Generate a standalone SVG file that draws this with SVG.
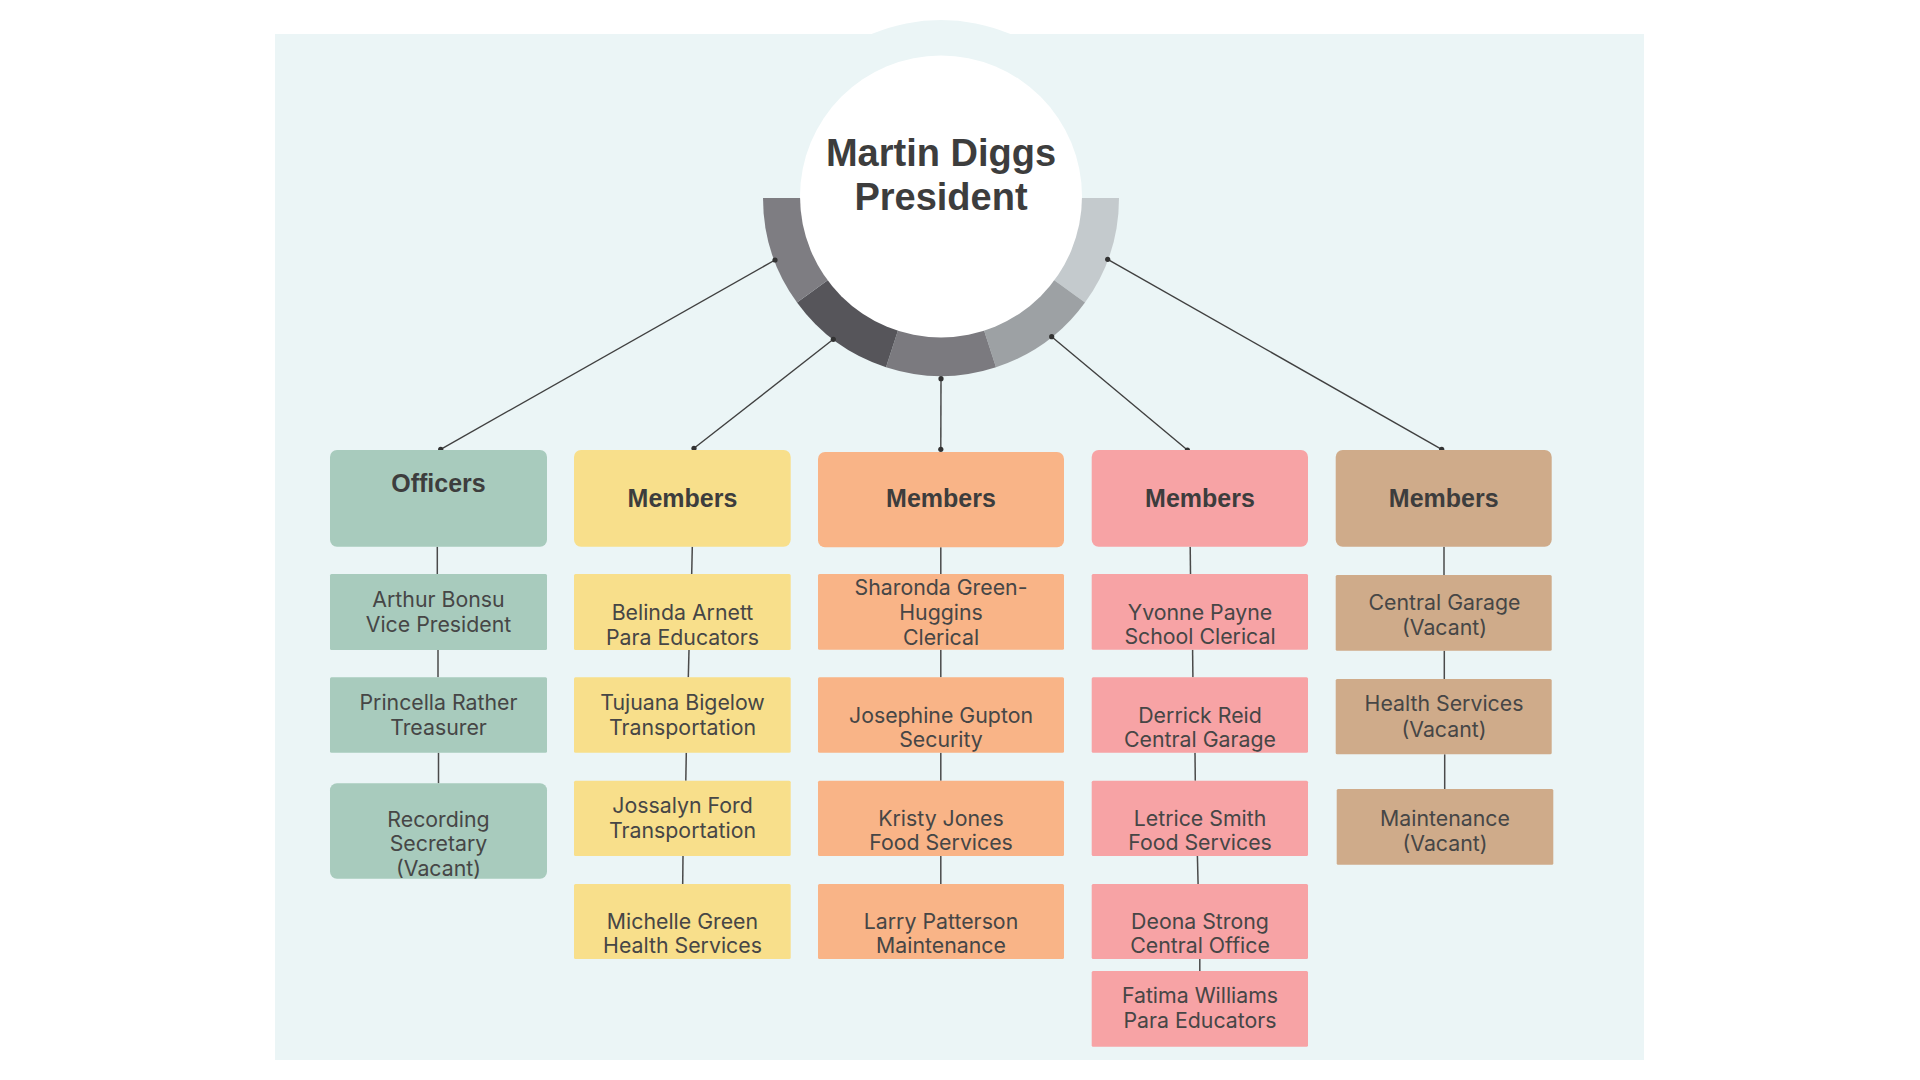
<svg xmlns="http://www.w3.org/2000/svg" width="1920" height="1080" viewBox="0 0 1920 1080">
<style>
.hd{font-family:"Liberation Sans",Arial,sans-serif;font-weight:bold;font-size:25px;fill:#3d3d3d;text-anchor:middle}
.tx{font-family:Inter,"Liberation Sans",sans-serif;font-size:21.3px;fill:#464646;text-anchor:middle}
.ti{font-family:"Liberation Sans",Arial,sans-serif;font-weight:bold;font-size:38px;fill:#3d3d3d;text-anchor:middle}
.g{fill:#a8cbbd}.y{fill:#f8df8b}.o{fill:#f9b487}.p{fill:#f7a3a5}.b{fill:#cfab8a}
.ln{stroke:#404040;stroke-width:1.4;fill:none}
.vl{stroke:#4a4a4a;stroke-width:1.5;fill:none}
.dot{fill:#333}
</style>
<defs>
<clipPath id="clipRec"><rect x="330" y="783.3" width="217" height="95.4" rx="7"/></clipPath>
</defs>
<rect width="1920" height="1080" fill="#ffffff"/>
<g id="background">
<rect x="275" y="34" width="1369" height="1026" fill="#ebf5f6"/>
<circle cx="941" cy="198" r="178" fill="#ebf5f6"/>
</g>
<g id="president">
<path d="M941,198 L1119,198 A178,178 0 0 1 1085,302.6 Z" fill="#c4cacd"/>
<path d="M941,198 L1085,302.6 A178,178 0 0 1 996,367.3 Z" fill="#9da1a4"/>
<path d="M941,198 L996,367.3 A178,178 0 0 1 886,367.3 Z" fill="#7b7a7f"/>
<path d="M941,198 L886,367.3 A178,178 0 0 1 797,302.6 Z" fill="#56555a"/>
<path d="M941,198 L797,302.6 A178,178 0 0 1 763,198 Z" fill="#7e7d82"/>
<circle cx="941" cy="196.5" r="141" fill="#ffffff"/>
<text class="ti" x="941" y="165.7">Martin Diggs</text>
<text class="ti" x="941" y="210">President</text>
</g>
<g id="connectors">
<line class="ln" x1="775" y1="260" x2="440.7" y2="449.3"/>
<line class="ln" x1="833.3" y1="339.3" x2="694" y2="448.3"/>
<line class="ln" x1="941" y1="378.7" x2="940.8" y2="449.3"/>
<line class="ln" x1="1051.7" y1="336.7" x2="1187.4" y2="450"/>
<line class="ln" x1="1107.7" y1="259.3" x2="1441.7" y2="449.3"/>
<circle class="dot" cx="775" cy="260" r="2.6"/>
<circle class="dot" cx="833.3" cy="339.3" r="2.6"/>
<circle class="dot" cx="941" cy="378.7" r="2.6"/>
<circle class="dot" cx="1051.7" cy="336.7" r="2.6"/>
<circle class="dot" cx="1107.7" cy="259.3" r="2.6"/>
<circle class="dot" cx="440.7" cy="449.3" r="2.6"/>
<circle class="dot" cx="694" cy="448.3" r="2.6"/>
<circle class="dot" cx="940.8" cy="449.3" r="2.6"/>
<circle class="dot" cx="1187.4" cy="450" r="2.6"/>
<circle class="dot" cx="1441.7" cy="449.3" r="2.6"/>
<line class="vl" x1="437.3" y1="546.7" x2="437.3" y2="574"/>
<line class="vl" x1="438" y1="650" x2="438" y2="677.3"/>
<line class="vl" x1="438.5" y1="752.7" x2="438.5" y2="783.3"/>
<line class="vl" x1="692.3" y1="546.7" x2="691.7" y2="574"/>
<line class="vl" x1="689" y1="650" x2="688.3" y2="677.3"/>
<line class="vl" x1="686.3" y1="752.7" x2="685.8" y2="780.7"/>
<line class="vl" x1="683" y1="856" x2="682.7" y2="884"/>
<line class="vl" x1="940.8" y1="547.3" x2="940.8" y2="574"/>
<line class="vl" x1="940.8" y1="649.7" x2="940.8" y2="677.3"/>
<line class="vl" x1="940.8" y1="752.7" x2="940.8" y2="780.7"/>
<line class="vl" x1="940.8" y1="856" x2="940.8" y2="884"/>
<line class="vl" x1="1190.2" y1="546.7" x2="1190.5" y2="574"/>
<line class="vl" x1="1192.6" y1="649.7" x2="1192.9" y2="677.3"/>
<line class="vl" x1="1195" y1="752.7" x2="1195.3" y2="780.7"/>
<line class="vl" x1="1197.4" y1="856" x2="1198.1" y2="884"/>
<line class="vl" x1="1199.8" y1="959" x2="1199.8" y2="971"/>
<line class="vl" x1="1444" y1="546.7" x2="1444" y2="575"/>
<line class="vl" x1="1444.3" y1="650.7" x2="1444.3" y2="679"/>
<line class="vl" x1="1444.7" y1="754.3" x2="1444.7" y2="789"/>
</g>
<g id="officers">
<rect class="g" x="330" y="450" width="217" height="96.7" rx="7"/>
<text class="hd" x="438.5" y="492">Officers</text>
</g>
<g id="arthur-bonsu">
<rect class="g" x="330" y="574" width="217" height="76" rx="1.5"/>
<text class="tx" x="438.5" y="606.7">Arthur Bonsu</text>
<text class="tx" x="438.5" y="631.7">Vice President</text>
</g>
<g id="princella-rather">
<rect class="g" x="330" y="677.3" width="217" height="75.4" rx="1.5"/>
<text class="tx" x="438.5" y="710">Princella Rather</text>
<text class="tx" x="438.5" y="735">Treasurer</text>
</g>
<g id="recording-secretary">
<rect class="g" x="330" y="783.3" width="217" height="95.4" rx="7"/>
<g clip-path="url(#clipRec)">
<text class="tx" x="438.5" y="826.7">Recording</text>
<text class="tx" x="438.5" y="851">Secretary</text>
<text class="tx" x="438.5" y="876">(Vacant)</text>
</g>
</g>
<g id="members-yellow">
<rect class="y" x="574" y="450" width="216.7" height="96.7" rx="7"/>
<text class="hd" x="682.5" y="507.3">Members</text>
</g>
<g id="belinda-arnett">
<rect class="y" x="574" y="574" width="216.7" height="76" rx="1.5"/>
<text class="tx" x="682.5" y="620">Belinda Arnett</text>
<text class="tx" x="682.5" y="645">Para Educators</text>
</g>
<g id="tujuana-bigelow">
<rect class="y" x="574" y="677.3" width="216.7" height="75.4" rx="1.5"/>
<text class="tx" x="682.5" y="710">Tujuana Bigelow</text>
<text class="tx" x="682.5" y="735">Transportation</text>
</g>
<g id="jossalyn-ford">
<rect class="y" x="574" y="780.7" width="216.7" height="75.3" rx="1.5"/>
<text class="tx" x="682.5" y="813.3">Jossalyn Ford</text>
<text class="tx" x="682.5" y="838.3">Transportation</text>
</g>
<g id="michelle-green">
<rect class="y" x="574" y="884" width="216.7" height="75" rx="1.5"/>
<text class="tx" x="682.5" y="929">Michelle Green</text>
<text class="tx" x="682.5" y="953.3">Health Services</text>
</g>
<g id="members-orange">
<rect class="o" x="818" y="452" width="246" height="95.3" rx="7"/>
<text class="hd" x="941" y="506.7">Members</text>
</g>
<g id="sharonda-green-huggins">
<rect class="o" x="818" y="574" width="246" height="75.7" rx="1.5"/>
<text class="tx" x="941" y="595">Sharonda Green-</text>
<text class="tx" x="941" y="620">Huggins</text>
<text class="tx" x="941" y="645">Clerical</text>
</g>
<g id="josephine-gupton">
<rect class="o" x="818" y="677.3" width="246" height="75.4" rx="1.5"/>
<text class="tx" x="941" y="723.3">Josephine Gupton</text>
<text class="tx" x="941" y="747.3">Security</text>
</g>
<g id="kristy-jones">
<rect class="o" x="818" y="780.7" width="246" height="75.3" rx="1.5"/>
<text class="tx" x="941" y="826">Kristy Jones</text>
<text class="tx" x="941" y="850">Food Services</text>
</g>
<g id="larry-patterson">
<rect class="o" x="818" y="884" width="246" height="75" rx="1.5"/>
<text class="tx" x="941" y="929">Larry Patterson</text>
<text class="tx" x="941" y="953.3">Maintenance</text>
</g>
<g id="members-pink">
<rect class="p" x="1091.7" y="450" width="216.3" height="96.7" rx="7"/>
<text class="hd" x="1200" y="506.7">Members</text>
</g>
<g id="yvonne-payne">
<rect class="p" x="1091.7" y="574" width="216.3" height="75.7" rx="1.5"/>
<text class="tx" x="1200" y="620">Yvonne Payne</text>
<text class="tx" x="1200" y="644">School Clerical</text>
</g>
<g id="derrick-reid">
<rect class="p" x="1091.7" y="677.3" width="216.3" height="75.4" rx="1.5"/>
<text class="tx" x="1200" y="723.3">Derrick Reid</text>
<text class="tx" x="1200" y="747.3">Central Garage</text>
</g>
<g id="letrice-smith">
<rect class="p" x="1091.7" y="780.7" width="216.3" height="75.3" rx="1.5"/>
<text class="tx" x="1200" y="826">Letrice Smith</text>
<text class="tx" x="1200" y="850">Food Services</text>
</g>
<g id="deona-strong">
<rect class="p" x="1091.7" y="884" width="216.3" height="75" rx="1.5"/>
<text class="tx" x="1200" y="929">Deona Strong</text>
<text class="tx" x="1200" y="953">Central Office</text>
</g>
<g id="fatima-williams">
<rect class="p" x="1091.7" y="971" width="216.3" height="75.7" rx="1.5"/>
<text class="tx" x="1200" y="1003.3">Fatima Williams</text>
<text class="tx" x="1200" y="1028.3">Para Educators</text>
</g>
<g id="members-brown">
<rect class="b" x="1335.7" y="450" width="216" height="96.7" rx="7"/>
<text class="hd" x="1443.7" y="507.3">Members</text>
</g>
<g id="central-garage-vacant">
<rect class="b" x="1335.7" y="575" width="216" height="75.7" rx="1.5"/>
<text class="tx" x="1444.5" y="610">Central Garage</text>
<text class="tx" x="1444.5" y="635">(Vacant)</text>
</g>
<g id="health-services-vacant">
<rect class="b" x="1335.7" y="679" width="216" height="75.3" rx="1.5"/>
<text class="tx" x="1444" y="711">Health Services</text>
<text class="tx" x="1444" y="736.7">(Vacant)</text>
</g>
<g id="maintenance-vacant">
<rect class="b" x="1336.7" y="789" width="216.6" height="75.7" rx="1.5"/>
<text class="tx" x="1445" y="826">Maintenance</text>
<text class="tx" x="1445" y="850.7">(Vacant)</text>
</g>
</svg>
